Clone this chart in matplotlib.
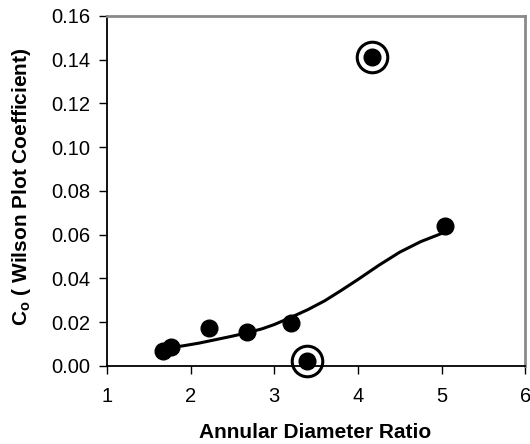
import matplotlib
matplotlib.use("Agg")
import matplotlib.pyplot as plt

plt.rcParams['font.family'] = ['Liberation Sans', 'DejaVu Sans']

# measured points
ratio = [1.67, 1.77, 2.22, 2.67, 3.20, 5.04]
coef = [0.0069, 0.0087, 0.0174, 0.0155, 0.0197, 0.0640]

# circled (excluded) points
out_ratio = [3.39, 4.17]
out_coef = [0.0023, 0.1413]

# trend curve
curve_x = [1.77, 1.9, 2.1, 2.3, 2.5, 2.67, 2.85, 3.0, 3.2, 3.4, 3.6,
           3.8, 4.0, 4.25, 4.5, 4.75, 5.03]
curve_y = [0.0086, 0.0091, 0.0104, 0.0120, 0.0136, 0.0151, 0.0169, 0.0189,
           0.0222, 0.0257, 0.0297, 0.0345, 0.0395, 0.0460, 0.0520, 0.0568, 0.0610]

fig = plt.figure(figsize=(5.30, 4.44), dpi=100)
ax = fig.add_axes([0.202, 0.176, 0.789, 0.788])

ax.plot(curve_x, curve_y, color='black', lw=2.2, solid_capstyle='round')
ax.plot(ratio, coef, 'o', color='black', ms=12)
ax.plot(out_ratio, out_coef, 'o', color='black', ms=12, clip_on=False, zorder=5)
ax.plot(out_ratio, out_coef, 'o', mfc='none', mec='black', ms=22, mew=2.2,
        clip_on=False, zorder=5)

ax.set_xlim(1, 6)
ax.set_ylim(0, 0.16)
ax.set_xticks([1, 2, 3, 4, 5, 6])
ax.set_yticks([0.00, 0.02, 0.04, 0.06, 0.08, 0.10, 0.12, 0.14, 0.16])
ax.set_yticklabels(['%.2f' % v for v in ax.get_yticks()])
ax.tick_params(direction='out', length=6, width=1, labelsize=14.5, colors='black')
ax.tick_params(axis='x', pad=9)
ax.tick_params(axis='y', pad=6)

for s in ['left', 'bottom']:
    ax.spines[s].set_linewidth(1.3)
    ax.spines[s].set_color('black')
for s in ['top', 'right']:
    ax.spines[s].set_linewidth(2)
    ax.spines[s].set_color('#8a8a8a')

ax.set_xlabel('Annular Diameter Ratio', fontsize=15, fontweight='bold')
ax.set_ylabel(r'C$_\mathregular{o}$ ( Wilson Plot Coefficient)', fontsize=15,
              fontweight='bold')
ax.xaxis.set_label_coords(0.498, -0.163)
ax.yaxis.set_label_coords(-0.177, 0.511)

fig.savefig('out.png', dpi=100)
